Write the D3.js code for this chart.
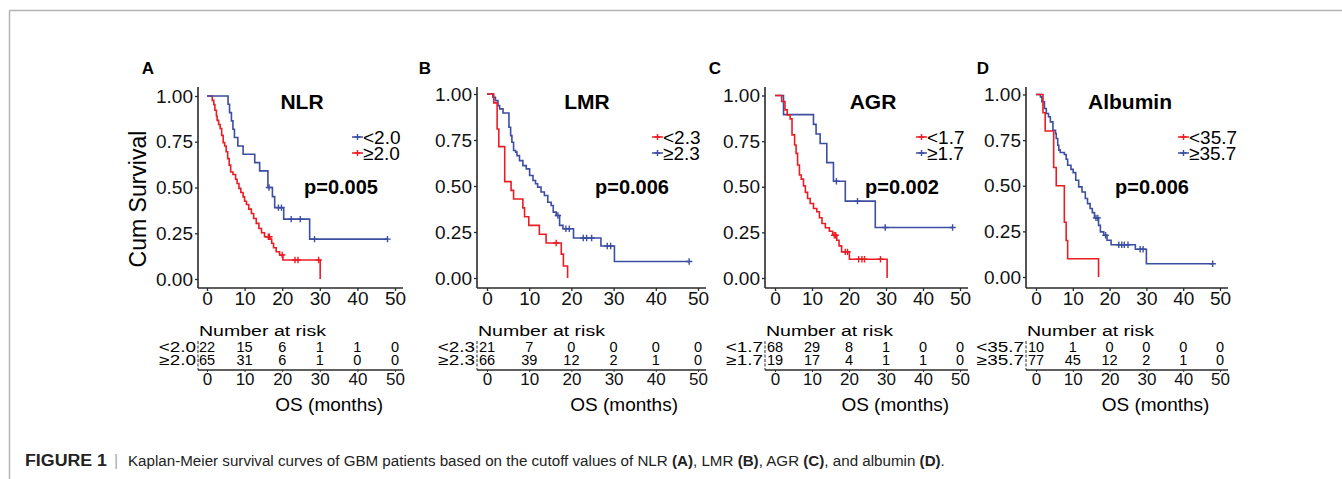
<!DOCTYPE html>
<html><head><meta charset="utf-8">
<script src="https://cdn.jsdelivr.net/npm/d3@7"></script>
<style>
body{margin:0;background:#fff}
svg{display:block}
text{font-family:"Liberation Sans",Arial,Helvetica,sans-serif}
</style>
</head><body>
<svg id="chart" width="1342" height="479"></svg>
<script>
// ---------------- data ----------------
const xTicks = [0, 10, 20, 30, 40, 50];
const yTicks = [0, 0.25, 0.5, 0.75, 1];
const panelLetters = ["A", "B", "C", "D"];
const panelTitles = ["NLR", "LMR", "AGR", "Albumin"];
const pValues = ["p=0.005", "p=0.006", "p=0.002", "p=0.006"];
const lowLabels = ["<2.0", "<2.3", "<1.7", "<35.7"];
const highLabels = ["\u22652.0", "\u22652.3", "\u22651.7", "\u226535.7"];
const riskTimes = [0, 10, 20, 30, 40, 50];

// NLR
const nlrLowTime = [0, 5.6, 6.0, 6.5, 6.9, 7.3, 8.2, 9.6, 12.7, 14.0, 16.2, 17.4, 18.0, 20.4, 27.3];
const nlrLowSurv = [1, 0.955, 0.909, 0.864, 0.818, 0.773, 0.727, 0.682, 0.636, 0.591, 0.50, 0.45, 0.39, 0.327, 0.218];
const nlrLowCensor = [16.5, 19.0, 19.8, 22.4, 24.8, 28.6, 48.0];
const nlrHighTime = [0, 1.4, 1.8, 2.1, 2.5, 2.7, 3.1, 3.5, 3.9, 4.3, 4.7, 5.1, 5.5, 5.9, 6.3, 6.9, 7.6, 8.0, 8.5, 9.0, 9.6, 10.0, 10.5, 11.1, 11.8, 12.4, 13.1, 13.8, 14.5, 15.3, 16.7, 17.2, 17.7, 18.4, 19.3, 20.2, 30.1];
const nlrHighSurv = [1, 0.976, 0.953, 0.922, 0.891, 0.867, 0.844, 0.822, 0.785, 0.745, 0.727, 0.695, 0.658, 0.622, 0.585, 0.571, 0.545, 0.522, 0.495, 0.473, 0.449, 0.425, 0.407, 0.382, 0.358, 0.331, 0.304, 0.276, 0.253, 0.231, 0.218, 0.195, 0.171, 0.149, 0.131, 0.104, 0];
const nlrHighCensor = [16.3, 16.6, 20.0, 23.4, 24.2, 29.7];
const nlrRiskLow = [22, 15, 6, 1, 1, 0];
const nlrRiskHigh = [65, 31, 6, 1, 0, 0];

// LMR
const lmrLowTime = [0, 1.6, 2.4, 2.8, 4.2, 5.7, 6.3, 8.5, 8.9, 9.9, 12.4, 14.0, 17.6, 18.1, 19.1];
const lmrLowSurv = [1, 0.952, 0.81, 0.714, 0.524, 0.476, 0.429, 0.381, 0.333, 0.286, 0.238, 0.19, 0.13, 0.065, 0];
const lmrLowCensor = [16.4];
const lmrHighTime = [0, 1.4, 2.0, 2.6, 3.0, 3.8, 5.2, 5.6, 5.9, 6.3, 6.8, 7.1, 7.7, 8.5, 9.3, 10.1, 10.9, 11.5, 12.0, 12.8, 13.6, 14.4, 15.2, 15.7, 16.4, 17.2, 18.0, 20.5, 27.0, 30.2];
const lmrHighSurv = [1, 0.982, 0.964, 0.937, 0.919, 0.897, 0.819, 0.774, 0.738, 0.693, 0.684, 0.665, 0.638, 0.611, 0.593, 0.557, 0.530, 0.512, 0.494, 0.467, 0.448, 0.412, 0.394, 0.358, 0.340, 0.286, 0.268, 0.217, 0.174, 0.090];
const lmrHighCensor = [16.8, 18.7, 19.5, 22.8, 23.6, 24.8, 28.5, 29.3, 47.9];
const lmrRiskLow = [21, 7, 0, 0, 0, 0];
const lmrRiskHigh = [66, 39, 12, 2, 1, 0];

// AGR
const agrLowTime = [0, 1.8, 2.7, 3.3, 4.1, 4.6, 5.3, 5.7, 6.1, 6.6, 7.1, 7.7, 8.2, 8.8, 9.5, 10.4, 11.3, 12.0, 12.7, 13.6, 14.7, 15.6, 16.7, 17.3, 18.0, 20.1, 30.3];
const agrLowSurv = [1, 0.967, 0.921, 0.894, 0.872, 0.784, 0.729, 0.683, 0.619, 0.564, 0.542, 0.505, 0.469, 0.436, 0.408, 0.381, 0.363, 0.330, 0.299, 0.275, 0.256, 0.234, 0.207, 0.176, 0.143, 0.103, 0];
const agrLowCensor = [16.0, 16.4, 19.0, 19.6, 22.6, 23.5, 24.2, 28.5];
const agrHighTime = [0, 2.3, 10.4, 11.1, 12.2, 14.0, 15.8, 19.0, 27.1];
const agrHighSurv = [1, 0.895, 0.842, 0.789, 0.737, 0.632, 0.53, 0.421, 0.277];
const agrHighCensor = [16.6, 22.3, 29.8, 48.0];
const agrRiskLow = [68, 29, 8, 1, 0, 0];
const agrRiskHigh = [19, 17, 4, 1, 1, 0];

// Albumin
const albLowTime = [0, 1.9, 2.5, 4.8, 5.5, 7.7, 8.2, 8.6, 17.0];
const albLowSurv = [1, 0.9, 0.8, 0.6, 0.5, 0.3, 0.2, 0.1, 0];
const albLowCensor = [];
const albHighTime = [0, 1.2, 1.6, 2.3, 2.8, 3.4, 3.9, 4.6, 5.3, 5.5, 5.9, 6.2, 6.6, 7.7, 8.2, 8.6, 9.5, 10.1, 10.8, 11.6, 12.5, 13.4, 14.0, 14.7, 15.3, 15.9, 17.0, 17.5, 18.4, 19.3, 20.4, 27.0, 30.0];
const albHighSurv = [1, 0.987, 0.960, 0.923, 0.896, 0.878, 0.850, 0.804, 0.786, 0.759, 0.722, 0.695, 0.682, 0.671, 0.645, 0.612, 0.590, 0.572, 0.530, 0.494, 0.466, 0.430, 0.402, 0.375, 0.353, 0.324, 0.283, 0.247, 0.229, 0.201, 0.177, 0.152, 0.073];
const albHighCensor = [16.3, 16.8, 18.9, 22.5, 23.3, 24.0, 25.0, 28.3, 29.1, 48.0];
const albRiskLow = [10, 1, 0, 0, 0, 0];
const albRiskHigh = [77, 45, 12, 2, 1, 0];

const captionParts = [
  ["Kaplan-Meier survival curves of GBM patients based on the cutoff values of NLR ", false],
  ["(A)", true], [", LMR ", false], ["(B)", true], [", AGR ", false], ["(C)", true],
  [", and albumin ", false], ["(D)", true], [".", false]
];

// ---------------- styles / layout ----------------
const RED = "#ec1c24", BLUE = "#3b4ea2", AX = "#2a2a2a";
const FONT = '"Liberation Sans",Arial,Helvetica,sans-serif';

const seriesData = [
  {low:[nlrLowTime,nlrLowSurv,nlrLowCensor], high:[nlrHighTime,nlrHighSurv,nlrHighCensor], risk:[nlrRiskLow,nlrRiskHigh], lowColor:BLUE, highColor:RED},
  {low:[lmrLowTime,lmrLowSurv,lmrLowCensor], high:[lmrHighTime,lmrHighSurv,lmrHighCensor], risk:[lmrRiskLow,lmrRiskHigh], lowColor:RED, highColor:BLUE},
  {low:[agrLowTime,agrLowSurv,agrLowCensor], high:[agrHighTime,agrHighSurv,agrHighCensor], risk:[agrRiskLow,agrRiskHigh], lowColor:RED, highColor:BLUE},
  {low:[albLowTime,albLowSurv,albLowCensor], high:[albHighTime,albHighSurv,albHighCensor], risk:[albRiskLow,albRiskHigh], lowColor:RED, highColor:BLUE}
];
const layouts = [
  {axisX:198, x0:207, x50:395, yTop:96, yBot:279, letterX:148, legendX:352, titleX:302, pX:341},
  {axisX:477, x0:487, x50:698, yTop:94, yBot:278, letterX:425, legendX:652, titleX:587, pX:632},
  {axisX:765, x0:775, x50:960, yTop:95.5, yBot:278, letterX:715, legendX:916, titleX:873, pX:902},
  {axisX:1026, x0:1036, x50:1220, yTop:94.5, yBot:277, letterX:983, legendX:1178, titleX:1130, pX:1152}
];

const svg = d3.select("#chart");

// frame
svg.append("line").attr("x1",9.5).attr("x2",1342).attr("y1",10.5).attr("y2",10.5).attr("stroke","#b4b4b4").attr("stroke-width",1.5);
svg.append("line").attr("x1",9.5).attr("x2",9.5).attr("y1",10.5).attr("y2",479).attr("stroke","#b4b4b4").attr("stroke-width",1.5);

function zipPts(t, s){ const n=Math.min(t.length,s.length); const a=[]; for(let i=0;i<n;i++) a.push([t[i],s[i]]); return a; }
function survAt(pts, t){ let v=pts[0][1]; for(const p of pts){ if(p[0]<=t) v=p[1]; else break;} return v; }

function plus(g, cx, cy, color, r){
  g.append("path").attr("d",`M${cx-r},${cy}H${cx+r}M${cx},${cy-r}V${cy+r}`)
    .attr("stroke",color).attr("stroke-width",1.4).attr("fill","none");
}

layouts.forEach((L, i) => {
  const S = seriesData[i];
  const g = svg.append("g");
  const x = d3.scaleLinear().domain([0,50]).range([L.x0, L.x50]);
  const y = d3.scaleLinear().domain([0,1]).range([L.yBot, L.yTop]);

  // panel letter
  g.append("text").attr("x",L.letterX).attr("y",74).attr("text-anchor","middle")
    .attr("font-size",17).attr("font-weight","bold").text(panelLetters[i]);

  // y axis
  const yAx = g.append("g").attr("transform",`translate(${L.axisX},0)`)
    .call(d3.axisLeft(y).tickValues(yTicks).tickFormat(d3.format(".2f")).tickSize(3).tickPadding(2));
  yAx.select(".domain").remove();
  yAx.selectAll("line").attr("stroke",AX).attr("stroke-width",1.3);
  yAx.selectAll("text").attr("font-size",19).attr("font-family",FONT).attr("fill","#111");
  g.append("line").attr("x1",L.axisX).attr("x2",L.axisX).attr("y1",87).attr("y2",288).attr("stroke",AX).attr("stroke-width",1.6);

  // x axis of plot
  const xAx = g.append("g").attr("transform",`translate(0,288)`)
    .call(d3.axisBottom(x).tickValues(xTicks).tickSize(3).tickPadding(1));
  xAx.select(".domain").remove();
  xAx.selectAll("line").attr("stroke",AX).attr("stroke-width",1.3);
  xAx.selectAll("text").attr("font-size",19).attr("font-family",FONT).attr("fill","#111");
  g.append("line").attr("x1",L.axisX).attr("x2",L.x50+8).attr("y1",288).attr("y2",288).attr("stroke",AX).attr("stroke-width",1.6);

  // curves
  const line = d3.line().x(d=>x(d[0])).y(d=>y(d[1])).curve(d3.curveStepAfter);
  [["high",S.highColor],["low",S.lowColor]].forEach(([k,col]) => {
    const [tt, ss, cc] = S[k];
    const pts = zipPts(tt, ss);
    const lastT = d3.max([pts[pts.length-1][0], ...(cc.length?cc:[0])]);
    const drawn = pts.slice();
    if (lastT > pts[pts.length-1][0]) drawn.push([lastT, pts[pts.length-1][1]]);
    g.append("path").attr("d", line(drawn)).attr("fill","none").attr("stroke",col).attr("stroke-width",1.6);
    cc.forEach(c => plus(g, x(c), y(survAt(pts,c)), col, 3.2));
  });

  // title & p
  g.append("text").attr("x",L.titleX).attr("y",109).attr("text-anchor","middle")
    .attr("font-size",21).attr("font-weight","bold").text(panelTitles[i]);
  g.append("text").attr("x",L.pX).attr("y",194).attr("text-anchor","middle")
    .attr("font-size",20).attr("font-weight","bold").text(pValues[i]);

  // legend
  [[lowLabels[i], S.lowColor, 137],[highLabels[i], S.highColor, 153]].forEach(([lab,col,yy]) => {
    g.append("line").attr("x1",L.legendX).attr("x2",L.legendX+11).attr("y1",yy).attr("y2",yy).attr("stroke",col).attr("stroke-width",1.5);
    plus(g, L.legendX+5.5, yy, col, 3);
    g.append("text").attr("x",L.legendX+11).attr("y",yy+6.5).attr("font-size",19).text(lab);
  });

  // risk table
  g.append("text").attr("x",L.axisX+1).attr("y",336).attr("font-size",15.5)
    .attr("textLength",127).attr("lengthAdjust","spacingAndGlyphs").text("Number at risk");
  const rowY = [347, 360];
  [lowLabels[i], highLabels[i]].forEach((lab, r) => {
    g.append("text").attr("text-anchor","end").attr("font-size",14)
      .attr("transform",`translate(${L.axisX-2},${rowY[r]+5}) scale(1.35,1)`).text(lab);
    S.risk[r].forEach((v, j) => {
      g.append("text").attr("x",x(riskTimes[j])).attr("y",rowY[r]+5).attr("text-anchor","middle")
        .attr("font-size",14.5).text(v);
    });
  });
  g.append("line").attr("x1",L.axisX).attr("x2",L.axisX).attr("y1",341).attr("y2",370).attr("stroke",AX).attr("stroke-width",1).attr("stroke-dasharray","3,1.5");
  const rAx = g.append("g").attr("transform",`translate(0,370)`)
    .call(d3.axisBottom(x).tickValues(xTicks).tickSize(2).tickPadding(1));
  rAx.select(".domain").remove();
  rAx.selectAll("line").attr("stroke",AX);
  rAx.selectAll("text").attr("font-size",17).attr("font-family",FONT).attr("fill","#111");
  g.append("line").attr("x1",L.axisX).attr("x2",L.x50+8).attr("y1",370).attr("y2",370).attr("stroke",AX).attr("stroke-width",1.6);
  g.append("text").attr("x",x(32.5)).attr("y",411).attr("text-anchor","middle").attr("font-size",19).text("OS (months)");
});

// y label
svg.append("text").attr("transform","translate(146,199) rotate(-90)").attr("text-anchor","middle")
  .attr("font-size",23).text("Cum Survival");

// caption
const cap = svg.append("g");
cap.append("text").attr("x",25).attr("y",466).attr("font-size",16).attr("font-weight","bold")
  .attr("textLength",82).attr("lengthAdjust","spacingAndGlyphs").attr("fill","#222").text("FIGURE 1");
cap.append("text").attr("x",114).attr("y",466).attr("font-size",16).attr("fill","#aaa").text("|");
const ct = cap.append("text").attr("x",0).attr("y",0).attr("font-size",15.5).attr("fill","#222");
captionParts.forEach(([t,b]) => ct.append("tspan").attr("font-weight", b ? "bold" : "normal").text(t));
const capW = ct.node().getComputedTextLength();
ct.attr("transform",`translate(128,466) scale(${817 / capW},1)`);
</script>
</body></html>
